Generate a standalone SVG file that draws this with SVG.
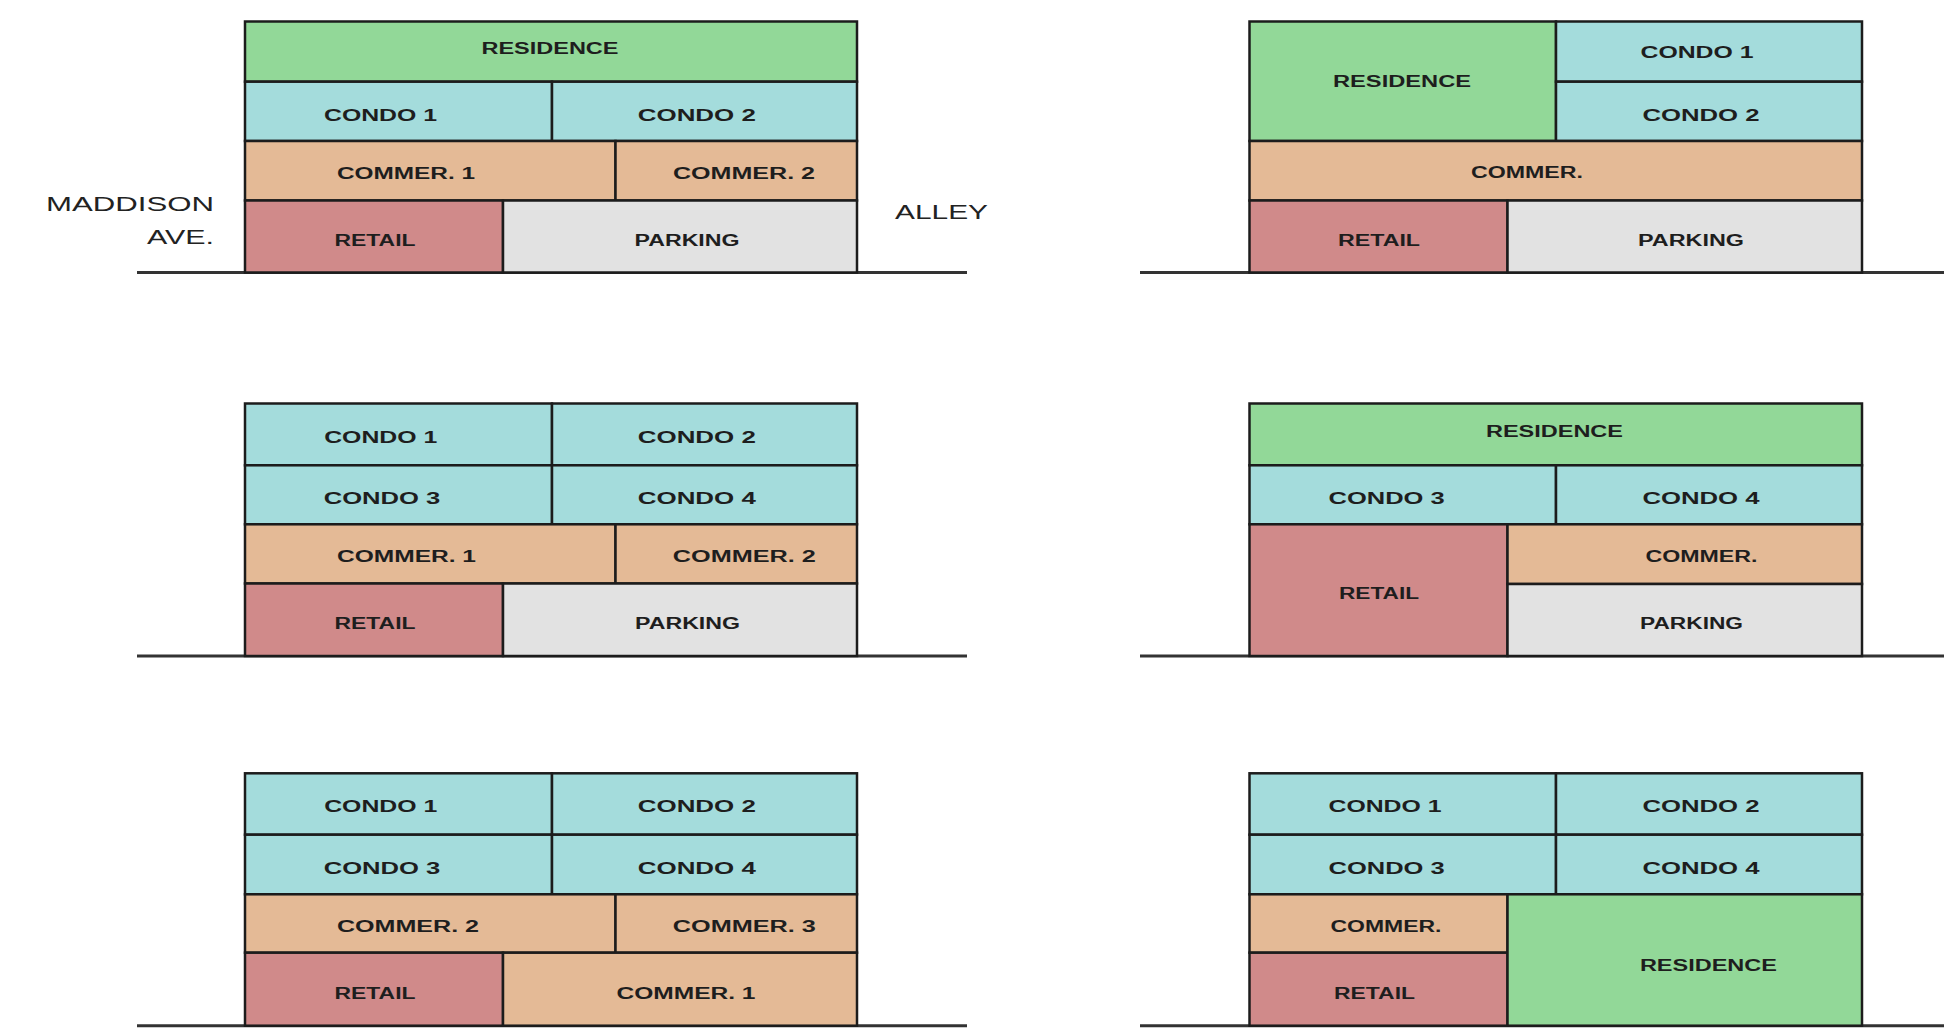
<svg xmlns="http://www.w3.org/2000/svg" width="1944" height="1036" viewBox="0 0 1944 1036">
<style>
.c{stroke:#1c1c1c;stroke-width:2.5}
.res{fill:#92d898}
.con{fill:#a4dcdc}
.com{fill:#e4ba96}
.ret{fill:#d08a8a}
.par{fill:#e2e2e2}
text{font-family:"Liberation Sans",Arial,sans-serif}
.t{font-size:16px;font-weight:bold;fill:#1e1e1e;text-anchor:middle}
.s{font-size:21px;fill:#222}
.g{stroke:#333;stroke-width:3}
</style>
<rect width="1944" height="1036" fill="#ffffff"/>
<g id="ground">
<line class="g" x1="137" y1="272.5" x2="967" y2="272.5"/>
<line class="g" x1="1140" y1="272.5" x2="1944" y2="272.5"/>
<line class="g" x1="137" y1="656" x2="967" y2="656"/>
<line class="g" x1="1140" y1="656" x2="1944" y2="656"/>
<line class="g" x1="137" y1="1025.7" x2="967" y2="1025.7"/>
<line class="g" x1="1140" y1="1025.7" x2="1944" y2="1025.7"/>
</g>
<g id="labels">
<text class="s" x="214" y="210.7" text-anchor="end" textLength="168" lengthAdjust="spacingAndGlyphs">MADDISON</text>
<text class="s" x="214" y="244" text-anchor="end" textLength="67" lengthAdjust="spacingAndGlyphs">AVE.</text>
<text class="s" x="895" y="219.3" textLength="93" lengthAdjust="spacingAndGlyphs">ALLEY</text>
</g>
<g id="scheme1">
<g id="s1-residence"><rect class="c res" x="245" y="21.5" width="612" height="60.2"/><text class="t" x="550" y="54" textLength="137" lengthAdjust="spacingAndGlyphs">RESIDENCE</text></g>
<g id="s1-condo1"><rect class="c con" x="245" y="81.7" width="307" height="59.3"/><text class="t" x="380.5" y="121" textLength="113" lengthAdjust="spacingAndGlyphs">CONDO 1</text></g>
<g id="s1-condo2"><rect class="c con" x="552" y="81.7" width="305" height="59.3"/><text class="t" x="696.8" y="121" textLength="118" lengthAdjust="spacingAndGlyphs">CONDO 2</text></g>
<g id="s1-commer1"><rect class="c com" x="245" y="141" width="370.5" height="59.5"/><text class="t" x="406" y="178.5" textLength="138" lengthAdjust="spacingAndGlyphs">COMMER. 1</text></g>
<g id="s1-commer2"><rect class="c com" x="615.5" y="141" width="241.5" height="59.5"/><text class="t" x="744" y="178.5" textLength="142" lengthAdjust="spacingAndGlyphs">COMMER. 2</text></g>
<g id="s1-retail"><rect class="c ret" x="245" y="200.5" width="258" height="72"/><text class="t" x="375" y="245.5" textLength="81" lengthAdjust="spacingAndGlyphs">RETAIL</text></g>
<g id="s1-parking"><rect class="c par" x="503" y="200.5" width="354" height="72"/><text class="t" x="687" y="245.5" textLength="105" lengthAdjust="spacingAndGlyphs">PARKING</text></g>
</g>
<g id="scheme2">
<g id="s2-residence"><rect class="c res" x="1249.5" y="21.5" width="306.5" height="119.5"/><text class="t" x="1402" y="87.3" textLength="138" lengthAdjust="spacingAndGlyphs">RESIDENCE</text></g>
<g id="s2-condo1"><rect class="c con" x="1556" y="21.5" width="306" height="60.2"/><text class="t" x="1697" y="58.3" textLength="113" lengthAdjust="spacingAndGlyphs">CONDO 1</text></g>
<g id="s2-condo2"><rect class="c con" x="1556" y="81.7" width="306" height="59.3"/><text class="t" x="1701" y="120.7" textLength="117" lengthAdjust="spacingAndGlyphs">CONDO 2</text></g>
<g id="s2-commer"><rect class="c com" x="1249.5" y="141" width="612.5" height="59.5"/><text class="t" x="1527" y="178.3" textLength="112" lengthAdjust="spacingAndGlyphs">COMMER.</text></g>
<g id="s2-retail"><rect class="c ret" x="1249.5" y="200.5" width="258" height="72"/><text class="t" x="1379" y="245.7" textLength="82" lengthAdjust="spacingAndGlyphs">RETAIL</text></g>
<g id="s2-parking"><rect class="c par" x="1507.5" y="200.5" width="354.5" height="72"/><text class="t" x="1691" y="245.7" textLength="106" lengthAdjust="spacingAndGlyphs">PARKING</text></g>
</g>
<g id="scheme3">
<g id="s3-condo1"><rect class="c con" x="245" y="403.5" width="307" height="61.8"/><text class="t" x="380.7" y="442.7" textLength="113" lengthAdjust="spacingAndGlyphs">CONDO 1</text></g>
<g id="s3-condo2"><rect class="c con" x="552" y="403.5" width="305" height="61.8"/><text class="t" x="696.8" y="442.7" textLength="118" lengthAdjust="spacingAndGlyphs">CONDO 2</text></g>
<g id="s3-condo3"><rect class="c con" x="245" y="465.3" width="307" height="59"/><text class="t" x="382" y="504" textLength="116.5" lengthAdjust="spacingAndGlyphs">CONDO 3</text></g>
<g id="s3-condo4"><rect class="c con" x="552" y="465.3" width="305" height="59"/><text class="t" x="696.8" y="504" textLength="118" lengthAdjust="spacingAndGlyphs">CONDO 4</text></g>
<g id="s3-commer1"><rect class="c com" x="245" y="524.3" width="370.5" height="59.2"/><text class="t" x="406.5" y="561.7" textLength="139" lengthAdjust="spacingAndGlyphs">COMMER. 1</text></g>
<g id="s3-commer2"><rect class="c com" x="615.5" y="524.3" width="241.5" height="59.2"/><text class="t" x="744.3" y="561.7" textLength="143" lengthAdjust="spacingAndGlyphs">COMMER. 2</text></g>
<g id="s3-retail"><rect class="c ret" x="245" y="583.5" width="258" height="72.5"/><text class="t" x="375" y="629" textLength="81" lengthAdjust="spacingAndGlyphs">RETAIL</text></g>
<g id="s3-parking"><rect class="c par" x="503" y="583.5" width="354" height="72.5"/><text class="t" x="687.5" y="629" textLength="105" lengthAdjust="spacingAndGlyphs">PARKING</text></g>
</g>
<g id="scheme4">
<g id="s4-residence"><rect class="c res" x="1249.5" y="403.5" width="612.5" height="61.8"/><text class="t" x="1554.5" y="437.3" textLength="137" lengthAdjust="spacingAndGlyphs">RESIDENCE</text></g>
<g id="s4-condo3"><rect class="c con" x="1249.5" y="465.3" width="306.5" height="59"/><text class="t" x="1386.6" y="504" textLength="116" lengthAdjust="spacingAndGlyphs">CONDO 3</text></g>
<g id="s4-condo4"><rect class="c con" x="1556" y="465.3" width="306" height="59"/><text class="t" x="1701" y="504" textLength="117" lengthAdjust="spacingAndGlyphs">CONDO 4</text></g>
<g id="s4-retail"><rect class="c ret" x="1249.5" y="524.3" width="258" height="131.7"/><text class="t" x="1379" y="599" textLength="80" lengthAdjust="spacingAndGlyphs">RETAIL</text></g>
<g id="s4-commer"><rect class="c com" x="1507.5" y="524.3" width="354.5" height="59.7"/><text class="t" x="1701.5" y="562.3" textLength="112" lengthAdjust="spacingAndGlyphs">COMMER.</text></g>
<g id="s4-parking"><rect class="c par" x="1507.5" y="584" width="354.5" height="72"/><text class="t" x="1691.5" y="629" textLength="103" lengthAdjust="spacingAndGlyphs">PARKING</text></g>
</g>
<g id="scheme5">
<g id="s5-condo1"><rect class="c con" x="245" y="773.3" width="307" height="61.4"/><text class="t" x="380.7" y="812.3" textLength="113" lengthAdjust="spacingAndGlyphs">CONDO 1</text></g>
<g id="s5-condo2"><rect class="c con" x="552" y="773.3" width="305" height="61.4"/><text class="t" x="696.8" y="812.3" textLength="118" lengthAdjust="spacingAndGlyphs">CONDO 2</text></g>
<g id="s5-condo3"><rect class="c con" x="245" y="834.7" width="307" height="59.6"/><text class="t" x="382" y="874" textLength="116.5" lengthAdjust="spacingAndGlyphs">CONDO 3</text></g>
<g id="s5-condo4"><rect class="c con" x="552" y="834.7" width="305" height="59.6"/><text class="t" x="696.8" y="874" textLength="118" lengthAdjust="spacingAndGlyphs">CONDO 4</text></g>
<g id="s5-commer2"><rect class="c com" x="245" y="894.3" width="370.5" height="58.4"/><text class="t" x="408" y="931.7" textLength="142" lengthAdjust="spacingAndGlyphs">COMMER. 2</text></g>
<g id="s5-commer3"><rect class="c com" x="615.5" y="894.3" width="241.5" height="58.4"/><text class="t" x="744.3" y="931.7" textLength="143" lengthAdjust="spacingAndGlyphs">COMMER. 3</text></g>
<g id="s5-retail"><rect class="c ret" x="245" y="952.7" width="258" height="73"/><text class="t" x="375" y="999" textLength="81" lengthAdjust="spacingAndGlyphs">RETAIL</text></g>
<g id="s5-commer1"><rect class="c com" x="503" y="952.7" width="354" height="73"/><text class="t" x="686" y="999" textLength="139" lengthAdjust="spacingAndGlyphs">COMMER. 1</text></g>
</g>
<g id="scheme6">
<g id="s6-condo1"><rect class="c con" x="1249.5" y="773.3" width="306.5" height="61.4"/><text class="t" x="1385" y="812.3" textLength="113" lengthAdjust="spacingAndGlyphs">CONDO 1</text></g>
<g id="s6-condo2"><rect class="c con" x="1556" y="773.3" width="306" height="61.4"/><text class="t" x="1701" y="812.3" textLength="117" lengthAdjust="spacingAndGlyphs">CONDO 2</text></g>
<g id="s6-condo3"><rect class="c con" x="1249.5" y="834.7" width="306.5" height="59.6"/><text class="t" x="1386.6" y="874" textLength="116" lengthAdjust="spacingAndGlyphs">CONDO 3</text></g>
<g id="s6-condo4"><rect class="c con" x="1556" y="834.7" width="306" height="59.6"/><text class="t" x="1701" y="874" textLength="117" lengthAdjust="spacingAndGlyphs">CONDO 4</text></g>
<g id="s6-commer"><rect class="c com" x="1249.5" y="894.3" width="258" height="58.4"/><text class="t" x="1386" y="931.7" textLength="111" lengthAdjust="spacingAndGlyphs">COMMER.</text></g>
<g id="s6-retail"><rect class="c ret" x="1249.5" y="952.7" width="258" height="73"/><text class="t" x="1374.5" y="999" textLength="81" lengthAdjust="spacingAndGlyphs">RETAIL</text></g>
<g id="s6-residence"><rect class="c res" x="1507.5" y="894.3" width="354.5" height="131.4"/><text class="t" x="1708.4" y="970.7" textLength="137" lengthAdjust="spacingAndGlyphs">RESIDENCE</text></g>
</g>
</svg>
